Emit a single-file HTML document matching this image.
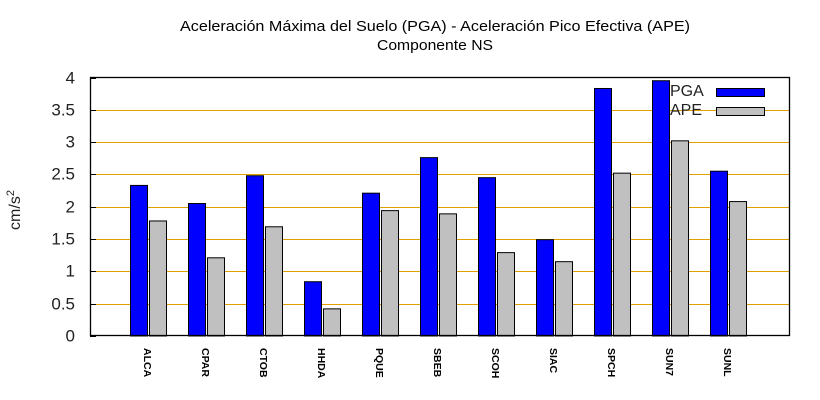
<!DOCTYPE html>
<html><head><meta charset="utf-8"><style>
html,body{margin:0;padding:0;background:#fff;}
svg{display:block;font-family:"Liberation Sans",sans-serif;}
</style></head><body>
<svg id="chart" width="820" height="400" viewBox="0 0 820 400">
<g>
<text x="435" y="31" font-size="15" text-anchor="middle" textLength="510" lengthAdjust="spacingAndGlyphs">Aceleración Máxima del Suelo (PGA) -  Aceleración Pico Efectiva (APE)</text>
<text x="435" y="50" font-size="15" text-anchor="middle" textLength="116" lengthAdjust="spacingAndGlyphs">Componente NS</text>
</g>
<text transform="translate(20,210) rotate(-90)" font-size="16" text-anchor="middle" fill="#222">cm/s<tspan font-size="11" dy="-6">2</tspan></text>
<g id="grid"></g><g id="bars"></g><g id="labels"></g>
<rect x="90.5" y="77.5" width="699" height="258" fill="none" stroke="#000" stroke-width="1.3"/>
<g>
<text x="670" y="96" font-size="16" fill="#222">PGA</text>
<rect x="716.5" y="88.5" width="48" height="8" fill="#0000ff" stroke="#000"/>
<text x="670" y="115" font-size="16" fill="#222">APE</text>
<rect x="716.5" y="107.5" width="48" height="8" fill="#c0c0c0" stroke="#000"/>
</g>
</svg>
<script>
const categories=["ALCA","CPAR","CTOB","HHDA","PQUE","SBEB","SCOH","SIAC","SPCH","SUN7","SUNL"];
const pgaValues=[2.33,2.05,2.48,0.84,2.21,2.76,2.45,1.49,3.83,3.95,2.55];
const apeValues=[1.78,1.21,1.69,0.42,1.94,1.89,1.29,1.15,2.52,3.02,2.08];
const yTicks=[0,0.5,1,1.5,2,2.5,3,3.5,4];
const tickLabels=["0","0.5","1","1.5","2","2.5","3","3.5","4"];
const NS="http://www.w3.org/2000/svg";
const y0=336,yTop=77.5,yMax=4;
function yScale(v){return y0-(v/yMax)*(y0-yTop);}
function xCenter(i){return 148+i*58;}
function mk(tag,attrs,parent){const e=document.createElementNS(NS,tag);for(const k in attrs)e.setAttribute(k,attrs[k]);parent.appendChild(e);return e;}
const grid=document.getElementById('grid'),bars=document.getElementById('bars'),labels=document.getElementById('labels');
yTicks.forEach((t,i)=>{
  const y=Math.round(yScale(t))+0.5;
  if(t>0&&t<yMax){const l=mk('line',{x1:91,x2:789,y1:y,y2:y,stroke:'#e0a000','stroke-width':1},grid);
  
  }
  const tk=mk('line',{x1:90,x2:96,y1:y,y2:y,stroke:'#000'},grid);
  
  
  const tx=mk('text',{x:75,y:y+5,'font-size':17,'text-anchor':'end',fill:'#222'},grid);
  tx.textContent=tickLabels[i];
  
  
});
categories.forEach((c,i)=>{
  const cx=xCenter(i);
  const b1=mk('rect',{x:cx-17.5,y:yScale(pgaValues[i]),width:17,height:y0-yScale(pgaValues[i]),fill:'#0000ff',stroke:'#000','stroke-width':1},bars);
  
  
  const b2=mk('rect',{x:cx+1.5,y:yScale(apeValues[i]),width:17,height:y0-yScale(apeValues[i]),fill:'#c0c0c0',stroke:'#000','stroke-width':1},bars);
  
  
  const t=mk('text',{transform:'translate('+(cx-4)+',348) rotate(90)','font-size':10.5,'font-weight':'bold',fill:'#000'},labels);
  t.textContent=c;
  
  
});
</script>
</body></html>
